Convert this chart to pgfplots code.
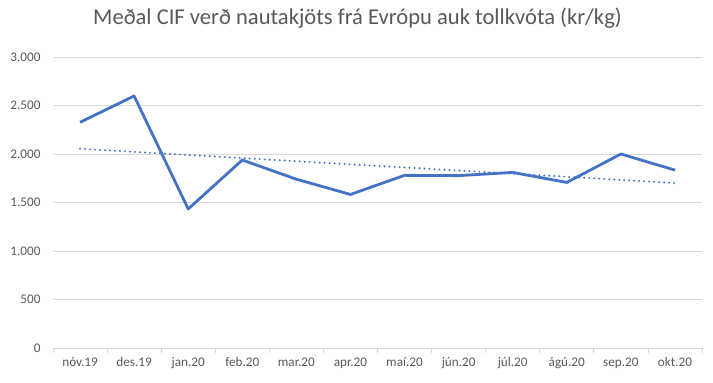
\documentclass[border=0pt]{standalone}
\usepackage{fontspec}
\setmainfont{Carlito}
\usepackage{pgfplots}
\pgfplotsset{compat=1.18}
\definecolor{lineblue}{HTML}{4472C4}
\definecolor{txtgrey}{HTML}{595959}
\definecolor{gridgrey}{HTML}{D9D9D9}
\begin{document}
\begin{tikzpicture}
\begin{axis}[
  scale only axis,
  width=649pt, height=291pt,
  xmin=-0.5, xmax=11.5,
  ymin=0, ymax=3000,
  ytick={0,500,...,3000},
  xtick={0,...,11},
  xticklabels={nóv.19,des.19,jan.20,feb.20,mar.20,apr.20,maí.20,jún.20,júl.20,ágú.20,sep.20,okt.20},
  minor xtick={-0.5,0.5,...,11.5},
  major tick length=0pt,
  minor tick length=5pt,
  tick align=outside,
  minor tick style={gridgrey, line width=0.8pt},
  ymajorgrids,
  grid style={gridgrey, line width=0.8pt},
  axis lines*=left,
  x axis line style={gridgrey, line width=0.8pt, -},
  y axis line style={draw=none},
  /pgf/number format/.cd, 1000 sep={.}, assume math mode=true,
  /pgfplots/.cd,
  ticklabel style={font=\fontsize{13.2}{15}\selectfont, text=txtgrey},
  yticklabel style={anchor=east, xshift=-9pt},
  xticklabel style={yshift=-6pt},
  title={Meðal CIF verð nautakjöts frá Evrópu auk tollkvóta (kr/kg)},
  title style={at={(axis description cs:0.5,1)}, anchor=center, yshift=33pt, xshift=-20pt, font=\fontsize{22.6}{26}\selectfont, text=txtgrey},
]
\addplot[lineblue, line width=2.8pt, line join=round] coordinates {
  (0,2327) (1,2598) (2,1433) (3,1938) (4,1740) (5,1583)
  (6,1780) (7,1777) (8,1810) (9,1707) (10,2000) (11,1834)
};
\addplot[lineblue, line width=2.2pt, line cap=round, dash pattern=on 0pt off 5pt] coordinates {
  (0,2054) (11,1701)
};
\end{axis}
\pgfresetboundingbox
\path (-53pt,-35pt) rectangle (660pt,348pt);
\end{tikzpicture}
\end{document}
